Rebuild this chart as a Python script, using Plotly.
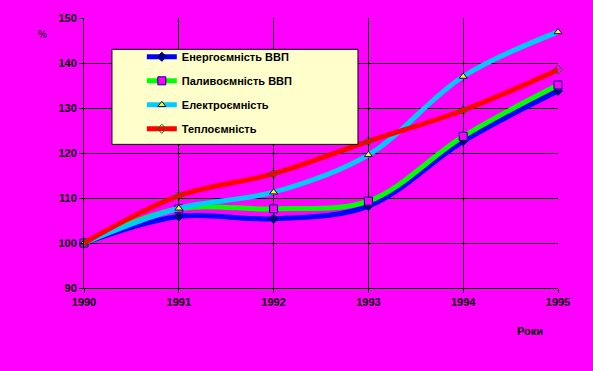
import plotly.graph_objects as go

years = [1990, 1991, 1992, 1993, 1994, 1995]
energy = [100, 105.9, 105.4, 108.2, 122.6, 133.8]
fuel = [100, 107.6, 107.6, 109.3, 123.7, 135.1]
electro = [100, 107.7, 111.3, 119.6, 137.0, 146.9]
heat = [100, 110.5, 115.4, 122.6, 129.5, 138.5]

names = ["Енергоємність ВВП", "Паливоємність ВВП", "Електроємність", "Теплоємність"]

FONT = "Liberation Sans, Arial, sans-serif"

fig = go.Figure()
specs = [
    (energy, "#0000FF", dict(symbol="diamond", size=7, color="#000080", line=dict(color="#000080", width=1))),
    (fuel, "#00FF00", dict(symbol="square", size=8, color="#FF00FF", line=dict(color="#000080", width=1))),
    (electro, "#00CCFF", dict(symbol="triangle-up", size=7, color="#FFFF00", line=dict(color="#000080", width=1))),
    (heat, "#FF0000", dict(symbol="diamond-open", size=7, color="#008000", line=dict(color="#008000", width=1))),
]
for i, (vals, col, mk) in enumerate(specs):
    fig.add_trace(go.Scatter(
        x=years, y=vals, name=names[i], mode="lines+markers",
        line=dict(color=col, width=5, shape="spline", smoothing=1),
        marker=mk, legendgroup=str(i), cliponaxis=False,
    ))

fig.update_layout(
    width=593, height=371,
    paper_bgcolor="#FF00FF", plot_bgcolor="#FF00FF",
    margin=dict(l=84, r=35, t=16, b=83),
    font=dict(family=FONT, size=11, color="black"),
    showlegend=True,
    legend=dict(
        x=0.122, y=0.91, xanchor="left", yanchor="top",
        bgcolor="rgba(0,0,0,0)", borderwidth=0,
        font=dict(family=FONT, size=11, color="black", weight="bold"),
        tracegroupgap=5, itemwidth=30,
    ),
    shapes=[
        dict(type="rect", xref="paper", yref="paper", x0=0.059, x1=0.578, y0=0.532, y1=0.884,
             fillcolor="#FFFFCC", line=dict(color="black", width=1), layer="above"),
    ],
    xaxis=dict(
        range=[1990, 1995], tickvals=years, ticktext=[str(y) for y in years],
        showgrid=True, gridcolor="black", gridwidth=1,
        ticks="outside", ticklen=4, tickcolor="black",
        showline=True, linecolor="black", linewidth=1,
        zeroline=False, tickfont=dict(family=FONT, size=11, weight="bold"),
    ),
    yaxis=dict(
        range=[90, 150], dtick=10,
        showgrid=True, gridcolor="black", gridwidth=1,
        ticks="outside", ticklen=4, tickcolor="black",
        showline=True, linecolor="black", linewidth=1,
        zeroline=False, tickfont=dict(family=FONT, size=11, weight="bold"),
    ),
    annotations=[
        dict(text="%", xref="paper", yref="paper", x=-0.0865, y=0.94,
             xanchor="center", yanchor="middle", showarrow=False,
             font=dict(family=FONT, size=10, color="black")),
        dict(text="<b>Роки</b>", xref="paper", yref="paper", x=0.941, y=-0.158,
             xanchor="center", yanchor="middle", showarrow=False,
             font=dict(family=FONT, size=11, color="black")),
    ],
)

fig.write_html("out.html", config={"displayModeBar": False},
               post_script="document.body.style.margin='0';document.body.style.overflow='hidden';")
